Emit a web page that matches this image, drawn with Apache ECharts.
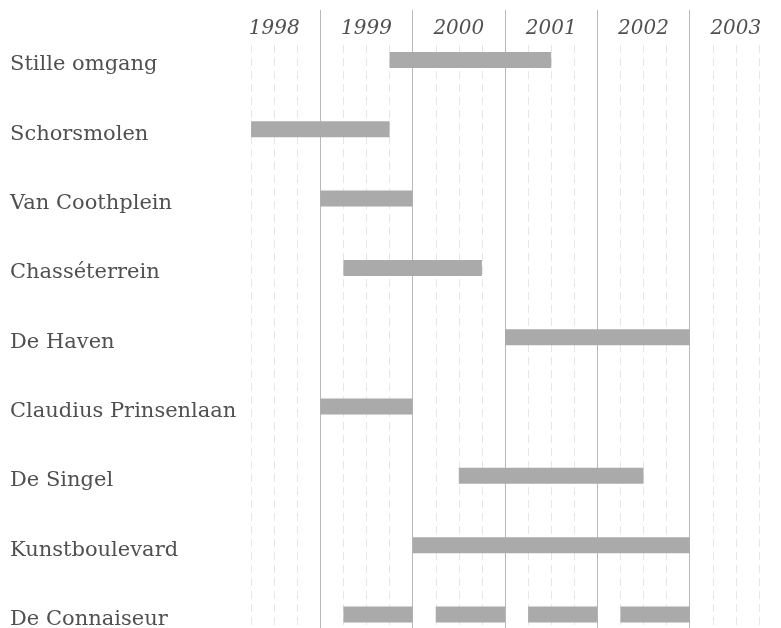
<!DOCTYPE html>
<html>
<head>
<meta charset="utf-8">
<script src="https://cdn.jsdelivr.net/npm/echarts@6/dist/echarts.min.js"></script>
<style>
  html, body { margin: 0; padding: 0; background: #fff; }
  #main { width: 781px; height: 628px; }
</style>
</head>
<body>
<div id="main"></div>
<script type="text/javascript">
  // projecten, van boven naar beneden
  var projects = ['Stille omgang', 'Schorsmolen', 'Van Coothplein', 'Chasséterrein', 'De Haven',
    'Claudius Prinsenlaan', 'De Singel', 'Kunstboulevard', 'De Connaiseur'];
  // begin en eind van elke balk in jaren (kwartalen)
  var barProject = [0, 1, 2, 3, 4, 5, 6, 7, 8, 8, 8, 8];
  var barStart = [1999.75, 1998.25, 1999, 1999.25, 2001, 1999, 2000.5, 2000, 1999.25, 2000.25, 2001.25, 2002.25];
  var barEnd = [2001.5, 1999.75, 2000, 2000.75, 2003, 2000, 2002.5, 2003, 2000, 2001, 2002, 2003];
  var yearMin = 1998, yearMax = 2004;

  var bars = [];
  for (var i = 0; i < barProject.length; i++) {
    bars.push([barProject[i], barStart[i], barEnd[i]]);
  }

  // kwartaallijnen: niet op de jaargrenzen
  var quarterColors = [];
  for (var q = 0; q < 25; q++) {
    quarterColors.push(q % 4 === 0 ? 'rgba(0,0,0,0)' : '#e6e6e6');
  }

  var chart = echarts.init(document.getElementById('main'));
  var option = {
    animation: false,
    grid: [
      {left: 228, right: -1, top: 10, bottom: 0, outerBoundsMode: 'none'},
      {left: 228, right: -1, top: 45, bottom: 0, outerBoundsMode: 'none'},
      {left: 228, right: -1, top: 25.3, height: 623.8, outerBoundsMode: 'none'},
      // namen iets lager dan de balken
      {left: 228, right: -1, top: 30.3, height: 623.8, outerBoundsMode: 'none'}
    ],
    xAxis: [
      {
        // jaargrenzen
        type: 'value', gridIndex: 0, min: yearMin, max: yearMax, interval: 1,
        axisLine: {show: false}, axisTick: {show: false}, axisLabel: {show: false},
        splitLine: {show: true, lineStyle: {color: ['rgba(0,0,0,0)', '#b8b8b8', '#b8b8b8', '#b8b8b8', '#b8b8b8', '#b8b8b8', 'rgba(0,0,0,0)'], width: 1}}
      },
      {
        // jaartallen midden in het jaar
        type: 'value', gridIndex: 0, min: yearMin, max: yearMax, interval: 0.5, position: 'top',
        axisLine: {show: false}, axisTick: {show: false}, splitLine: {show: false},
        axisLabel: {
          show: true, inside: true, margin: 9,
          fontFamily: 'DejaVu Serif', fontStyle: 'italic', fontSize: 20, color: '#505050',
          formatter: function (v) {
            return (v % 1 === 0.5) ? String(Math.floor(v)) : '';
          }
        }
      },
      {
        // kwartalen
        type: 'value', gridIndex: 1, min: yearMin, max: yearMax, interval: 0.25,
        axisLine: {show: false}, axisTick: {show: false}, axisLabel: {show: false},
        splitLine: {show: true, lineStyle: {color: quarterColors, type: [8, 5], width: 1}}
      },
      {type: 'value', gridIndex: 2, min: yearMin, max: yearMax, show: false},
      {type: 'value', gridIndex: 3, min: yearMin, max: yearMax, show: false}
    ],
    yAxis: [
      {type: 'value', gridIndex: 0, show: false},
      {type: 'value', gridIndex: 1, show: false},
      {type: 'category', gridIndex: 2, data: projects, inverse: true, show: false},
      {
        type: 'category', gridIndex: 3, data: projects, inverse: true,
        axisLine: {show: false}, axisTick: {show: false}, splitLine: {show: false},
        axisLabel: {
          align: 'left', margin: 218,
          fontFamily: 'DejaVu Serif', fontSize: 21, color: '#505050'
        }
      }
    ],
    series: [
      {
        type: 'custom',
        xAxisIndex: 3,
        yAxisIndex: 2,
        data: bars,
        encode: {x: [1, 2], y: 0},
        renderItem: function (params, api) {
          var start = api.coord([api.value(1), api.value(0)]);
          var end = api.coord([api.value(2), api.value(0)]);
          var h = 16;
          return {
            type: 'rect',
            shape: {x: start[0], y: start[1] - h / 2, width: end[0] - start[0], height: h},
            style: {fill: '#aaaaaa'}
          };
        }
      }
    ]
  };
  chart.setOption(option);
</script>
</body>
</html>
